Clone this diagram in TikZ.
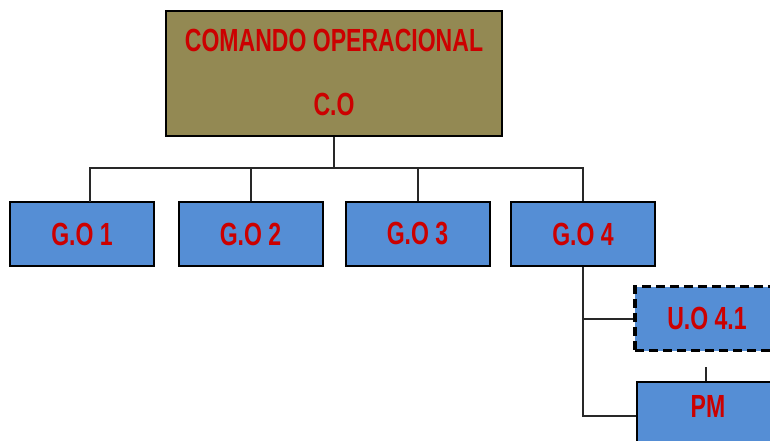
\documentclass[tikz,border=0pt]{standalone}
\usepackage{fontspec}
\newfontfamily\narrowfont[FakeStretch=0.72]{Liberation Sans}
\definecolor{olivebox}{RGB}{147,137,83}
\definecolor{bluebox}{RGB}{85,142,213}
\definecolor{redtext}{RGB}{204,0,0}
\definecolor{linegray}{RGB}{40,40,40}
\begin{document}
\begin{tikzpicture}[x=1pt,y=-1pt,
  lbl/.style={text=redtext,font=\narrowfont\bfseries\fontsize{32}{36}\selectfont},
  box/.style={draw=black,line width=2pt,fill=bluebox,minimum width=144pt,minimum height=64pt,inner sep=0pt,lbl},
  topbox/.style={draw=black,line width=2.4pt,fill=olivebox,minimum width=336pt,minimum height=125pt,inner sep=0pt},
  dashbox/.style={box,line width=3.5pt,dash pattern=on 9pt off 5pt},
  conn/.style={draw=linegray,line width=2pt}]
\useasboundingbox (0,0) rectangle (770,441);
\clip (0,0) rectangle (770,441);
\node[topbox] (co) at (334,73.5) {};
\node[lbl] (t1) at (334,40) {COMANDO OPERACIONAL};
\node[lbl] (t2) at (334,104) {C.O};
\node[box] (g1) at (82,234) {G.O 1};
\node[box] (g2) at (250.5,234) {G.O 2};
\node[box] (g3) at (417.5,234) {G.O 3};
\node[box] (g4) at (583,234) {G.O 4};
\node[dashbox] (uo) at (707,318.5) {U.O 4.1};
\node[box,minimum height=80pt,anchor=north west] (pm) at (636,381) {};
\node[lbl] (pmt) at (708,406) {PM};
\coordinate (bus) at (334,168);
\coordinate (d1) at (90,202);
\draw[conn] (co.south) -- (bus);
\draw[conn] (d1) |- (bus) -| (g4.north);
\draw[conn] (g2.north) -- (g2.north |- bus);
\draw[conn] (g3.north) -- (g3.north |- bus);
\coordinate (stub) at (706,367);
\draw[conn] (g4.south) |- (pm.west |- 0,416);
\draw[conn] (g4.south |- uo.west) -- (uo.west);
\draw[conn] (stub) -- (stub |- pm.north);
\end{tikzpicture}
\end{document}
